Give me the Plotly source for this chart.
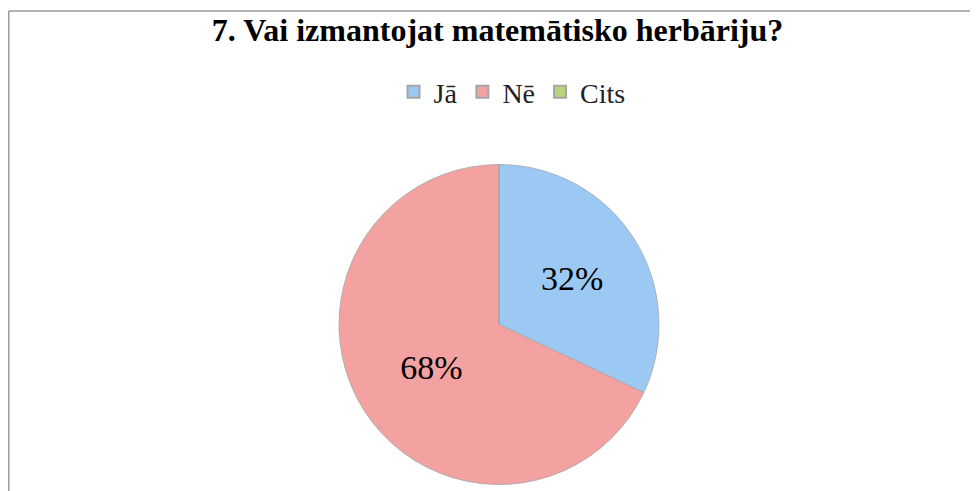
import plotly.graph_objects as go

categories = ["Jā", "Nē", "Cits"]
values = [32, 68, 0]
colors = ["#9CC9F4", "#F3A1A1", "#B8D47A"]
title_text = "7. Vai izmantojat matemātisko herbāriju?"

# page body has an 8px margin, so the figure is laid out in page px minus 8
OFF = 8
W, H = 978 - OFF, 491 - OFF
cx, cy, R = 499 - OFF, 324.5 - OFF, 160

SERIF = "Liberation Serif"

fig = go.Figure(go.Pie(
    labels=categories,
    values=values,
    sort=False,
    direction="clockwise",
    rotation=0,
    marker=dict(colors=colors, line=dict(color="#A6A6A6", width=0.8)),
    texttemplate="%{percent:.0%}",
    textposition="inside",
    insidetextorientation="horizontal",
    textfont=dict(family=SERIF, size=34, color="black"),
    insidetextfont=dict(family=SERIF, size=34, color="black"),
    domain=dict(x=[(cx - R) / W, (cx + R) / W], y=[(H - cy - R) / H, (H - cy + R) / H]),
    showlegend=True,
    hoverinfo="label+percent",
))

fig.update_layout(
    template="none",
    width=W, height=H,
    margin=dict(l=0, r=0, t=0, b=0),
    font=dict(family=SERIF, size=28, color="black"),
    paper_bgcolor="white",
    plot_bgcolor="white",
    title=dict(
        text="<b>" + title_text + "</b>",
        x=(497.5 - OFF) / W, xanchor="center", xref="paper",
        y=1 - (30 - OFF) / H, yanchor="middle", yref="container",
        font=dict(family=SERIF, size=32, color="black"),
    ),
    legend=dict(
        orientation="h",
        x=(512 - OFF) / W, xanchor="center",
        y=1 - (92 - OFF) / H, yanchor="middle",
        font=dict(family=SERIF, size=28, color="#222"),
        itemsizing="constant",
        traceorder="normal",
    ),
    shapes=[
        dict(type="line", xref="paper", yref="paper",
             x0=(8 - OFF + 0.75) / W, x1=1.0, y0=1 - (11 - OFF) / H, y1=1 - (11 - OFF) / H,
             line=dict(color="#9A9A9A", width=1.5)),
        dict(type="line", xref="paper", yref="paper",
             x0=(8 - OFF + 0.75) / W, x1=(8 - OFF + 0.75) / W, y0=0, y1=1 - (11 - OFF) / H,
             line=dict(color="#9A9A9A", width=1.5)),
    ],
)

fig.write_html("out.html")
